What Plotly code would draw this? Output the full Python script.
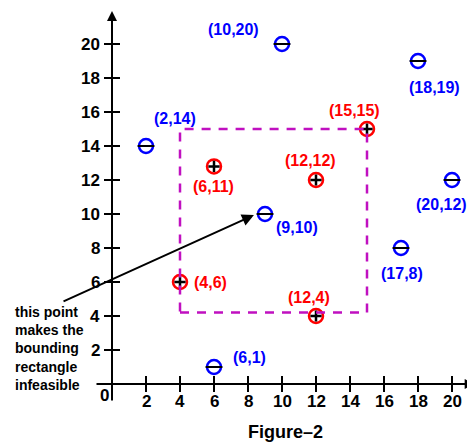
import plotly.graph_objects as go

# ---- data ----
neg_x = [10, 18, 2, 20, 9, 17, 6]
neg_y = [20, 19, 14, 12, 10, 8, 1]
neg_labels = ["(10,20)", "(18,19)", "(2,14)", "(20,12)", "(9,10)", "(17,8)", "(6,1)"]

pos_x = [15, 12, 6, 4, 12]
pos_y = [15, 12, 12.8, 6, 4]
pos_labels = ["(15,15)", "(12,12)", "(6,11)", "(4,6)", "(12,4)"]

rect_x = [4, 15]
rect_y = [4.2, 15]

x_ticks = [2, 4, 6, 8, 10, 12, 14, 16, 18, 20]
y_ticks = [2, 4, 6, 8, 10, 12, 14, 16, 18, 20]

# ---- layout helpers (pixel offsets of labels) ----
neg_shift = [(-49, 15), (16, -26), (29, 28), (-11, -24), (32, -13), (1, -25), (35, 10)]
pos_shift = [(-13, 19), (-6, 20), (-1, -20), (30, 0), (-7, 19)]

# page body has an 8px margin, so the figure is drawn 8px smaller and origin shifted
W, H = 467, 435
PX = 17.0  # pixels per unit
X0, Y0 = 104, 376  # pixel position of origin inside the figure
xr = [-X0 / PX, (W - X0) / PX]
yr = [(Y0 - H) / PX, Y0 / PX]

BLUE = "#0000ff"
RED = "#ff0000"
FONT = "Liberation Sans, Arial, sans-serif"

fig = go.Figure()

# rectangle
fig.add_shape(type="rect", x0=rect_x[0], x1=rect_x[1], y0=rect_y[0], y1=rect_y[1],
              line=dict(color="#c010c0", width=2.5, dash="9px,8px"))

# ticks
tl = 8 / PX
for t in x_ticks:
    fig.add_shape(type="line", x0=t, x1=t, y0=-tl, y1=tl, line=dict(color="black", width=2))
for t in y_ticks:
    fig.add_shape(type="line", x0=-tl, x1=tl, y0=t, y1=t, line=dict(color="black", width=2))

# points
fig.add_trace(go.Scatter(x=neg_x, y=neg_y, mode="markers",
                         marker=dict(symbol="circle-open", size=14, color=BLUE, line=dict(width=2.5, color=BLUE)),
                         hoverinfo="skip"))
fig.add_trace(go.Scatter(x=neg_x, y=neg_y, mode="markers",
                         marker=dict(symbol="line-ew", size=12, color="black", line=dict(width=2, color="black")),
                         hoverinfo="skip"))
fig.add_trace(go.Scatter(x=pos_x, y=pos_y, mode="markers",
                         marker=dict(symbol="circle-open", size=14, color=RED, line=dict(width=2.5, color=RED)),
                         hoverinfo="skip"))
fig.add_trace(go.Scatter(x=pos_x, y=pos_y, mode="markers",
                         marker=dict(symbol="cross-thin", size=8, color="black", line=dict(width=2.5, color="black")),
                         hoverinfo="skip"))

ann = []
for xv, yv, lab, (dx, dy) in zip(neg_x, neg_y, neg_labels, neg_shift):
    ann.append(dict(x=xv, y=yv, text=f"<b>{lab}</b>", showarrow=False, xshift=dx, yshift=dy,
                    font=dict(color=BLUE, size=16, family=FONT)))
for xv, yv, lab, (dx, dy) in zip(pos_x, pos_y, pos_labels, pos_shift):
    ann.append(dict(x=xv, y=yv, text=f"<b>{lab}</b>", showarrow=False, xshift=dx, yshift=dy,
                    font=dict(color=RED, size=16, family=FONT)))

# tick labels
for t in x_ticks:
    ann.append(dict(x=t, y=-1.0, text=f"<b>{t}</b>", showarrow=False, xanchor="center", yanchor="middle",
                    font=dict(size=17, color="black", family=FONT)))
for t in y_ticks:
    ann.append(dict(x=-0.6, y=t, text=f"<b>{t}</b>", showarrow=False, xanchor="right", yanchor="middle",
                    font=dict(size=17, color="black", family=FONT)))
ann.append(dict(x=-0.47, y=-0.65, text="<b>0</b>", showarrow=False, xanchor="center", yanchor="middle",
                font=dict(size=17, color="black", family=FONT)))

# axes with arrows
ann.append(dict(x=xr[1] - 0.02, y=0, ax=-1, ay=0, axref="x", ayref="y", xref="x", yref="y",
                showarrow=True, arrowhead=2, arrowsize=1, arrowwidth=2, arrowcolor="black", text="", standoff=0))
ann.append(dict(x=0, y=21.94, ax=0, ay=-1.06, axref="x", ayref="y", xref="x", yref="y",
                showarrow=True, arrowhead=2, arrowsize=1, arrowwidth=2, arrowcolor="black", text="", standoff=0))

# pointer arrow
ann.append(dict(x=8.35, y=9.94, ax=-2.94, ay=4.82, axref="x", ayref="y", xref="x", yref="y",
                showarrow=True, arrowhead=2, arrowsize=1.2, arrowwidth=2, arrowcolor="black", text="", standoff=0))

# note text
ann.append(dict(x=-5.82, y=2.06, text="<b>this point<br>makes the<br>bounding<br>rectangle<br>infeasible</b>",
                showarrow=False, xanchor="left", yanchor="middle", align="left",
                font=dict(size=14, color="black", family=FONT)))

# caption
ann.append(dict(x=10.18, y=-2.82, text="<b>Figure\u20132</b>", showarrow=False, xanchor="center", yanchor="middle",
                font=dict(size=18, color="black", family=FONT)))

fig.update_layout(
    width=W, height=H,
    margin=dict(l=0, r=0, t=0, b=0),
    paper_bgcolor="white", plot_bgcolor="white",
    showlegend=False,
    xaxis=dict(range=xr, visible=False, fixedrange=True),
    yaxis=dict(range=yr, visible=False, fixedrange=True),
    annotations=ann,
)

fig.write_html("out.html")
